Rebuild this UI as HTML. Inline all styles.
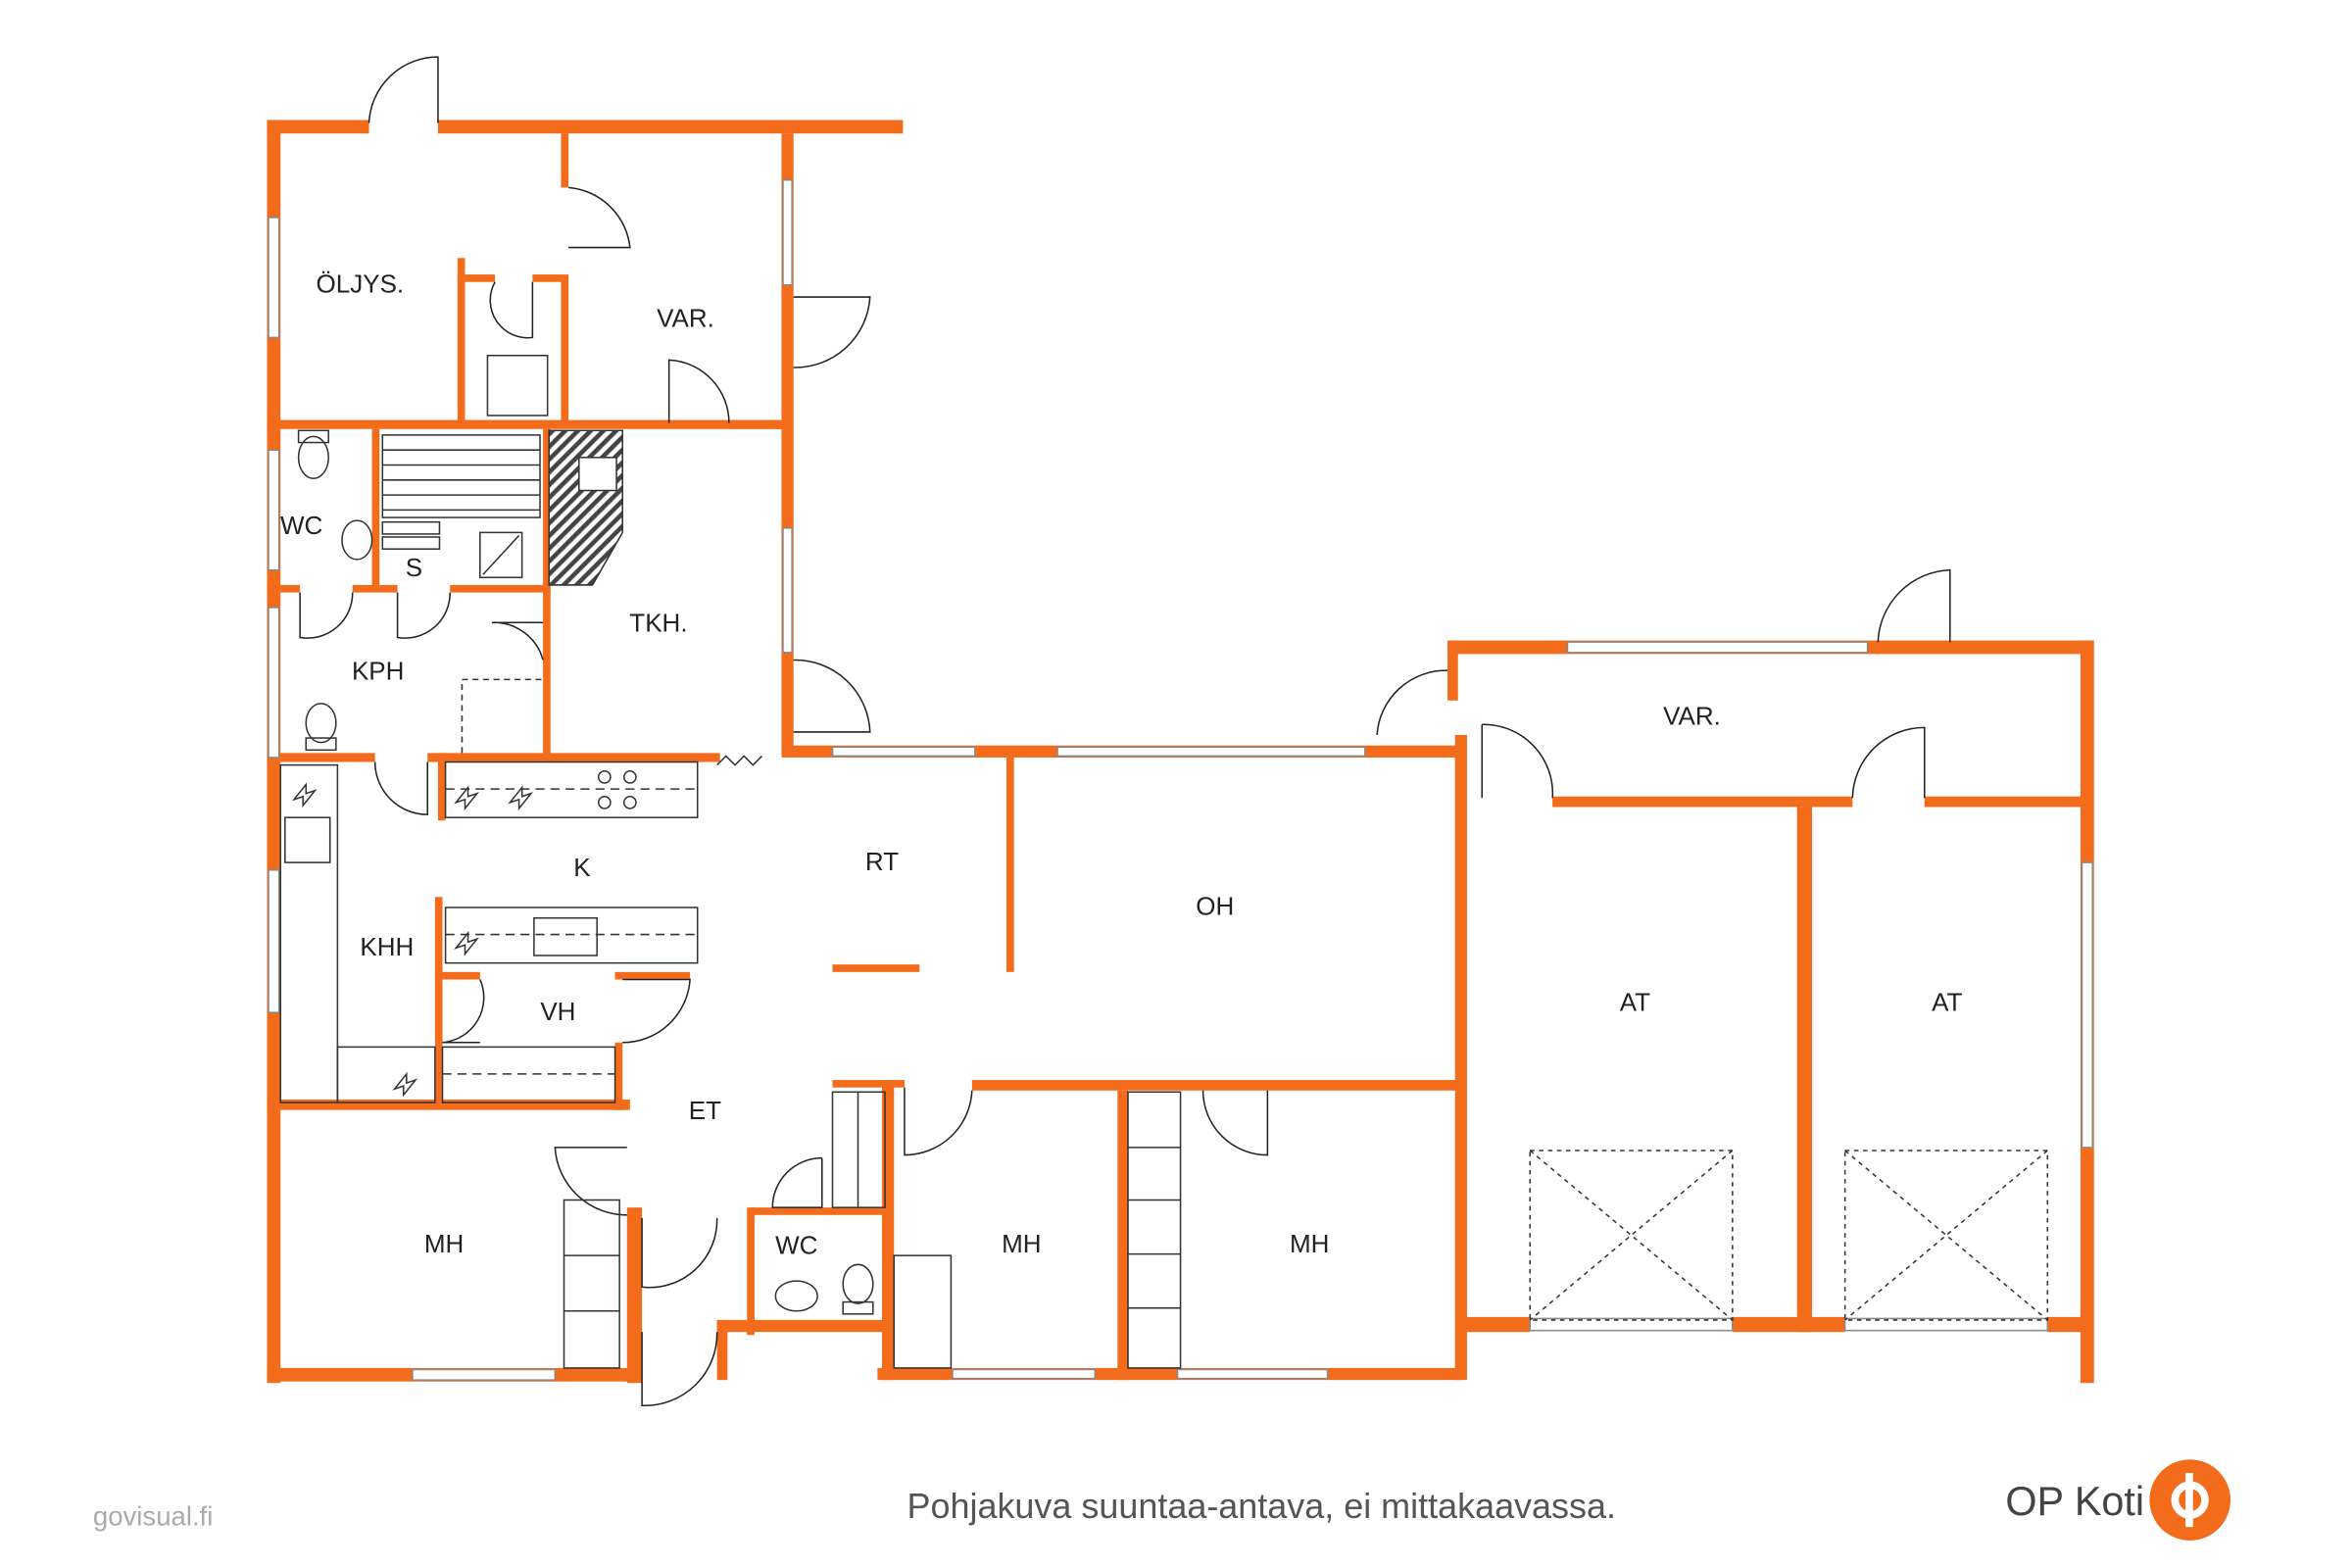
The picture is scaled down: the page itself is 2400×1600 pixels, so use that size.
<!DOCTYPE html>
<html><head><meta charset="utf-8"><style>
html,body{margin:0;padding:0;background:#fff;width:2400px;height:1600px;overflow:hidden}
svg{display:block}
text{font-family:"Liberation Sans",sans-serif}
</style></head><body>
<svg width="2400" height="1600" viewBox="0 0 1568 1045.33" xmlns="http://www.w3.org/2000/svg">
<defs><pattern id="h" width="6" height="6" patternUnits="userSpaceOnUse" patternTransform="rotate(45)"><rect width="6" height="6" fill="#fff"/><rect width="3" height="6" fill="#444"/></pattern></defs>
<g fill="#f36c1c">
<rect x="178" y="80" width="68" height="9"/><rect x="292" y="80" width="310" height="9"/>
<rect x="178" y="80" width="9" height="842"/>
<rect x="178" y="280" width="344" height="6"/>
<rect x="374" y="89" width="5" height="36"/><rect x="374" y="185" width="5" height="98"/>
<rect x="305" y="172" width="5" height="112"/><rect x="305" y="183" width="25" height="5"/><rect x="355" y="183" width="24" height="5"/>
<rect x="521" y="89" width="8" height="412"/>
<rect x="486" y="280" width="36" height="6"/>
<rect x="248" y="286" width="5" height="108"/><rect x="362" y="286" width="5" height="217"/>
<rect x="178" y="390" width="22" height="5"/><rect x="235" y="390" width="30" height="5"/><rect x="300" y="390" width="67" height="5"/>
<rect x="178" y="502" width="72" height="6"/><rect x="285" y="502" width="195" height="6"/>
<rect x="521" y="497" width="454" height="8"/>
<rect x="965" y="427" width="430" height="9"/>
<rect x="965" y="427" width="7" height="40"/>
<rect x="1387" y="427" width="9" height="495"/>
<rect x="1035" y="531" width="200" height="7"/><rect x="1283" y="531" width="105" height="7"/>
<rect x="970" y="490" width="8" height="430"/>
<rect x="1198" y="538" width="10" height="350"/>
<rect x="975" y="878" width="45" height="10"/><rect x="1155" y="878" width="75" height="10"/><rect x="1365" y="878" width="23" height="10"/>
<rect x="671" y="505" width="5" height="143"/>
<rect x="555" y="643" width="58" height="5"/>
<rect x="648" y="720" width="327" height="7"/>
<rect x="555" y="720" width="48" height="5"/>
<rect x="588" y="720" width="8" height="200"/>
<rect x="745" y="727" width="7" height="193"/>
<rect x="585" y="912" width="390" height="8"/>
<rect x="500" y="805" width="90" height="5"/><rect x="498" y="805" width="5" height="85"/>
<rect x="478" y="880" width="112" height="8"/><rect x="478" y="880" width="7" height="40"/>
<rect x="178" y="912" width="250" height="9"/>
<rect x="418" y="805" width="10" height="117"/>
<rect x="178" y="733" width="242" height="7"/>
<rect x="290" y="598" width="5" height="140"/>
<rect x="290" y="648" width="30" height="5"/><rect x="410" y="648" width="50" height="5"/>
<rect x="410" y="695" width="5" height="45"/>
<rect x="292" y="502" width="5" height="45"/>
</g>
<g fill="#fff" stroke="#888" stroke-width="1">
<rect x="179" y="145" width="7" height="80"/><rect x="179" y="300" width="7" height="80"/>
<rect x="179" y="405" width="7" height="100"/><rect x="179" y="580" width="7" height="95"/>
<rect x="522" y="120" width="6" height="70"/><rect x="522" y="352" width="6" height="83"/>
<rect x="555" y="498" width="95" height="6"/><rect x="705" y="498" width="205" height="6"/>
<rect x="1045" y="428" width="200" height="7"/><rect x="1388" y="575" width="7" height="190"/>
<rect x="275" y="913" width="95" height="7"/><rect x="635" y="913" width="95" height="6"/><rect x="785" y="913" width="100" height="6"/>
<rect x="1020" y="879" width="135" height="8"/><rect x="1230" y="879" width="135" height="8"/>
</g>
<g fill="none" stroke="#222" stroke-width="1">
<path d="M292 82 V38 A46 46 0 0 0 246 82"/>
<path d="M379 125 A45 45 0 0 1 420 165 L379 165"/>
<path d="M355 188 V225 A25 25 0 0 1 330 188"/>
<path d="M529 198 H580 A50 50 0 0 1 529 245"/>
<path d="M446 282 V240 A42 42 0 0 1 486 282"/>
<path d="M529 440 A50 50 0 0 1 580 488 H529"/>
<path d="M362 415 H328 A34 34 0 0 1 362 440"/>
<path d="M200 395 V425 A30 30 0 0 0 235 395"/>
<path d="M265 395 V425 A30 30 0 0 0 300 395"/>
<path d="M250 508 A35 35 0 0 0 285 543 V508"/>
<path d="M918 490 A46 46 0 0 1 965 447"/>
<path d="M988 483 V532 M988 483 A46 46 0 0 1 1035 532"/>
<path d="M1283 532 V485 A48 48 0 0 0 1235 532"/>
<path d="M1300 428 V380 A50 50 0 0 0 1252 428"/>
<path d="M603 725 V770 A45 45 0 0 0 648 727"/>
<path d="M845 727 V770 A43 43 0 0 1 802 727"/>
<path d="M320 653 A30 30 0 0 1 295 695 H320"/>
<path d="M415 653 H460 A45 45 0 0 1 415 695"/>
<path d="M418 765 H370 A48 48 0 0 0 418 810"/>
<path d="M428 812 V858 A45 45 0 0 0 478 812"/>
<path d="M428 888 V937 A48 48 0 0 0 478 888"/>
<path d="M548 772 V805 H515 A33 33 0 0 1 548 772"/>
</g>
<g fill="none" stroke="#333" stroke-width="1">
<rect x="325" y="237" width="40" height="40"/>
<rect x="255" y="290" width="105" height="55"/>
<path d="M255 300H360M255 310H360M255 320H360M255 330H360M255 340H360"/>
<rect x="255" y="348" width="38" height="8"/><rect x="255" y="358" width="38" height="8"/>
<rect x="320" y="355" width="28" height="30"/><path d="M322 383 L346 357"/>
<path d="M366 287 H415 V355 L395 390 H366 Z" fill="url(#h)"/>
<rect x="386" y="305" width="25" height="22" fill="#fff"/>
<ellipse cx="209" cy="305" rx="10" ry="14"/><rect x="199" y="287" width="20" height="8"/>
<ellipse cx="238" cy="360" rx="10" ry="13"/>
<ellipse cx="214" cy="482" rx="10" ry="13"/><rect x="204" y="492" width="20" height="8"/>
<path d="M308 502 V453 H362" stroke-dasharray="4 3"/>
<rect x="297" y="508" width="168" height="37"/>
<rect x="297" y="605" width="168" height="37"/><path d="M297 623 H465" stroke-dasharray="6 4"/>
<rect x="356" y="612" width="42" height="25"/>
<circle cx="403" cy="518" r="4"/><circle cx="420" cy="518" r="4"/><circle cx="403" cy="535" r="4"/><circle cx="420" cy="535" r="4"/>
<path d="M297 526 H465" stroke-dasharray="6 4"/>
<rect x="187" y="510" width="38" height="225"/><rect x="190" y="545" width="30" height="30"/>
<rect x="225" y="698" width="65" height="37"/>
<rect x="295" y="698" width="115" height="37"/><path d="M295 716H410" stroke-dasharray="6 4"/>
<rect x="376" y="800" width="37" height="112"/><path d="M376 837H413M376 874H413"/>
<rect x="555" y="728" width="35" height="77"/><path d="M572 728V805" />
<rect x="596" y="837" width="38" height="75"/>
<rect x="752" y="728" width="35" height="184"/><path d="M752 765H787M752 800H787M752 836H787M752 872H787"/>
<ellipse cx="531" cy="864" rx="14" ry="10"/><ellipse cx="572" cy="856" rx="10" ry="13"/><rect x="562" y="868" width="20" height="8"/>
<rect x="1020" y="767" width="135" height="113" stroke-dasharray="3 3"/><path d="M1020 767L1155 880M1155 767L1020 880" stroke-dasharray="3 3"/>
<rect x="1230" y="767" width="135" height="113" stroke-dasharray="3 3"/><path d="M1230 767L1365 880M1365 767L1230 880" stroke-dasharray="3 3"/>
<path d="M478 510 l6 -6 l6 6 l6 -6 l6 6 l6 -6"/>
<path d="M304 535 l8 -10 v6 l6 -2 l-8 10 v-6 z M340 535 l8 -10 v6 l6 -2 l-8 10 v-6 z M304 632 l8 -10 v6 l6 -2 l-8 10 v-6 z M196 533 l8 -10 v6 l6 -2 l-8 10 v-6 z M263 726 l8 -10 v6 l6 -2 l-8 10 v-6 z"/>
</g>
<g font-size="17" fill="#222" text-anchor="middle">
<text x="240" y="195">ÖLJYS.</text><text x="457" y="218">VAR.</text>
<text x="201" y="356">WC</text><text x="276" y="384">S</text>
<text x="439" y="421">TKH.</text><text x="252" y="453">KPH</text>
<text x="388" y="584">K</text><text x="588" y="580">RT</text><text x="810" y="610">OH</text>
<text x="258" y="637">KHH</text><text x="372" y="680">VH</text><text x="470" y="746">ET</text>
<text x="1128" y="483">VAR.</text><text x="1090" y="674">AT</text><text x="1298" y="674">AT</text>
<text x="296" y="835">MH</text><text x="531" y="836">WC</text><text x="681" y="835">MH</text><text x="873" y="835">MH</text>
</g>
<text x="62" y="1017" font-size="18" fill="#aaa">govisual.fi</text>
<text x="841" y="1012" font-size="23.5" fill="#555" text-anchor="middle">Pohjakuva suuntaa-antava, ei mittakaavassa.</text>
<text x="1337" y="1010" font-size="27" fill="#444">OP Koti</text>
<circle cx="1460" cy="1000" r="27" fill="#f36c1c"/>
<circle cx="1460" cy="1000" r="10" fill="none" stroke="#fff" stroke-width="5"/>
<rect x="1457" y="982" width="5" height="36" fill="#fff"/>
</svg>
</body></html>
